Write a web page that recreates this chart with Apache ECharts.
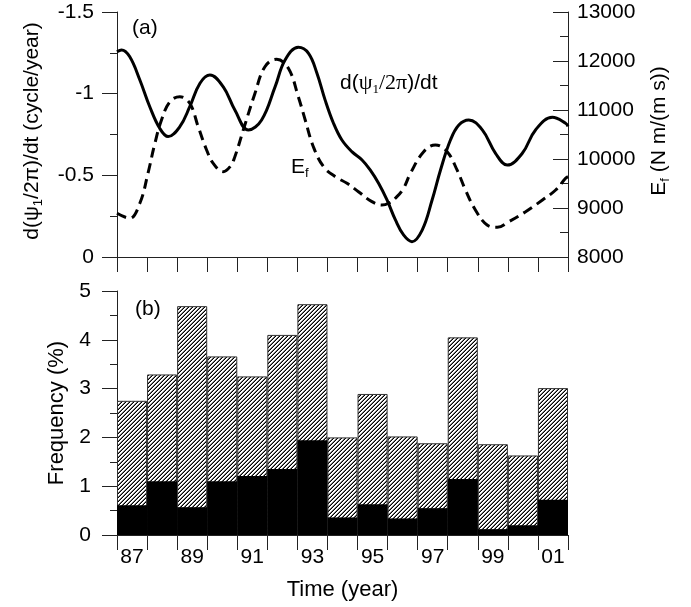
<!DOCTYPE html>
<html>
<head>
<meta charset="utf-8">
<script src="https://cdn.jsdelivr.net/npm/echarts@6/dist/echarts.min.js"></script>
<style>
html,body{margin:0;padding:0;background:#fff;}
#chart{width:691px;height:607px;}
</style>
</head>
<body>
<div id="chart"></div>
<script>
// ---- data ----
const psiYears = [1987.00,1987.15,1987.42,1987.76,1988.09,1988.42,1988.70,1989.09,1989.42,1989.76,1990.09,1990.53,1990.92,1991.37,1991.81,1992.26,1992.59,1993.03,1993.37,1993.65,1993.92,1994.20,1994.48,1994.81,1995.15,1995.42,1995.70,1995.98,1996.26,1996.53,1996.81,1997.15,1997.48,1997.76,1998.09,1998.37,1998.70,1999.15,1999.59,1999.98,2000.48,2000.92,2001.48,2001.92,2002.00];
const psiRate = [-1.257,-1.268,-1.227,-1.084,-0.920,-0.788,-0.737,-0.798,-0.920,-1.064,-1.114,-1.043,-0.900,-0.778,-0.839,-1.043,-1.206,-1.284,-1.247,-1.125,-0.962,-0.819,-0.716,-0.645,-0.594,-0.533,-0.451,-0.349,-0.227,-0.135,-0.094,-0.165,-0.349,-0.533,-0.716,-0.808,-0.839,-0.778,-0.635,-0.563,-0.635,-0.778,-0.855,-0.819,-0.800];
const efYears = [1987.00,1987.42,1987.76,1988.03,1988.26,1988.48,1988.76,1989.09,1989.42,1989.70,1989.98,1990.20,1990.53,1990.76,1990.92,1991.20,1991.59,1991.92,1992.31,1992.70,1993.03,1993.26,1993.53,1993.87,1994.26,1994.65,1995.03,1995.48,1995.81,1996.03,1996.31,1996.53,1996.76,1997.20,1997.59,1997.98,1998.31,1998.59,1998.92,1999.31,1999.65,2000.03,2000.59,2001.15,2001.59,2001.92,2002.00];
const efValues = [8892,8790,9096,9708,10320,10796,11169,11271,11137,10659,10184,9912,9741,9843,10047,10592,11341,11884,12035,11851,11272,10796,10251,9843,9639,9504,9333,9129,9061,9096,9231,9402,9708,10149,10286,10149,9776,9367,8959,8653,8606,8720,8924,9163,9367,9606,9639];
const yearLabels = ['87','88','89','90','91','92','93','94','95','96','97','98','99','00','01'];
const freqTotal = [2.75,3.29,4.69,3.66,3.25,4.10,4.73,2.00,2.89,2.02,1.88,4.05,1.86,1.63,3.01];
const freqBlack = [0.61,1.10,0.57,1.10,1.21,1.35,1.94,0.36,0.63,0.34,0.55,1.15,0.12,0.20,0.72];
const leftTicks = [-1.5,-1,-0.5,0];

// ---- hatch pattern ----
const pc = document.createElement('canvas');
pc.width = 4; pc.height = 4;
const pctx = pc.getContext('2d');
pctx.fillStyle = '#fff'; pctx.fillRect(0,0,4,4);
pctx.fillStyle = '#000';
[[3,0],[2,1],[1,2],[0,3]].forEach(p => pctx.fillRect(p[0],p[1],1,1));
pctx.fillStyle = '#777';
[[2,0],[1,1],[0,2],[3,3]].forEach(p => pctx.fillRect(p[0],p[1],1,1));

const FONT = "'Liberation Sans', Arial, sans-serif";
const SERIF = "'Liberation Serif', 'Times New Roman', serif";
const AX = '#222';

const chart = echarts.init(document.getElementById('chart'), null, {renderer:'canvas'});

const richBase = {
  n: {fontFamily: FONT, fontSize: 21, lineHeight: 26, color:'#000'},
  s: {fontFamily: FONT, fontSize: 13, lineHeight: 13, verticalAlign: 'bottom', color:'#000'},
  g: {fontFamily: SERIF, fontSize: 22, lineHeight: 26, color:'#000'},
  gs: {fontFamily: SERIF, fontSize: 13, lineHeight: 13, verticalAlign: 'bottom', color:'#000'}
};

const option = {
  animation: false,
  backgroundColor: '#fff',
  textStyle: {fontFamily: FONT, color: '#000'},
  grid: [
    {left: 117, right: 123, top: 12, height: 245},
    {left: 117, right: 123, top: 291, height: 244}
  ],
  xAxis: [
    {gridIndex: 0, type: 'value', min: 1987, max: 2002, interval: 1,
     axisLine: {show: true, lineStyle: {color: AX, width: 1}},
     axisTick: {show: true, length: 15, lineStyle: {color: AX}},
     axisLabel: {show: false}, splitLine: {show: false}},
    {gridIndex: 1, type: 'category', data: yearLabels, boundaryGap: true,
     axisLine: {show: true, lineStyle: {color: AX, width: 1}},
     axisTick: {show: true, length: 15, interval: 0, alignWithLabel: false, lineStyle: {color: AX}},
     axisLabel: {interval: 1, margin: 12, fontSize: 21, color: '#000', fontFamily: FONT},
     splitLine: {show: false},
     name: 'Time (year)', nameLocation: 'middle', nameGap: 44,
     nameTextStyle: {fontSize: 22, color: '#000', fontFamily: FONT}}
  ],
  yAxis: [
    {gridIndex: 0, type: 'value', min: -1.5, max: 0, interval: 0.5, inverse: true,
     axisLine: {show: true, lineStyle: {color: AX, width: 1}},
     axisTick: {show: true, length: 15, lineStyle: {color: AX}},
     minorTick: {show: true, splitNumber: 2, length: 7, lineStyle: {color: AX}},
     axisLabel: {margin: 23, fontSize: 21, color: '#000', fontFamily: FONT,
       formatter: v => { const t = leftTicks.find(x => Math.abs(x - v) < 1e-9); return t === undefined ? '' : String(t); }},
     splitLine: {show: false}},
    {gridIndex: 0, type: 'value', position: 'right', min: 8000, max: 13000, interval: 1000,
     axisLine: {show: true, lineStyle: {color: AX, width: 1}},
     axisTick: {show: true, inside: true, length: 15, lineStyle: {color: AX}},
     minorTick: {show: true, splitNumber: 2, length: 8, lineStyle: {color: AX}},
     axisLabel: {margin: 9, fontSize: 21, color: '#000', fontFamily: FONT, formatter: v => String(v)},
     splitLine: {show: false}},
    {gridIndex: 1, type: 'value', min: 0, max: 5, interval: 1,
     axisLine: {show: true, lineStyle: {color: AX, width: 1}},
     axisTick: {show: true, length: 15, lineStyle: {color: AX}},
     minorTick: {show: true, splitNumber: 2, length: 7, lineStyle: {color: AX}},
     axisLabel: {margin: 26, fontSize: 21, color: '#000', fontFamily: FONT},
     splitLine: {show: false},
     name: 'Frequency (%)', nameLocation: 'middle', nameGap: 47, nameRotate: 90,
     nameTextStyle: {fontSize: 22, color: '#000', fontFamily: FONT}}
  ],
  series: [
    {type: 'line', xAxisIndex: 0, yAxisIndex: 1, data: efYears.map((x,i) => [x, efValues[i]]),
     smooth: 0.4, showSymbol: false, symbol: 'none',
     lineStyle: {color: '#000', width: 3, type: [10, 6]}, z: 3},
    {type: 'line', xAxisIndex: 0, yAxisIndex: 0, data: psiYears.map((x,i) => [x, psiRate[i]]),
     smooth: 0.4, showSymbol: false, symbol: 'none',
     lineStyle: {color: '#000', width: 3}, z: 4},
    {type: 'bar', xAxisIndex: 1, yAxisIndex: 2, data: freqTotal,
     barWidth: '100%', barGap: '-100%', barCategoryGap: '0%',
     itemStyle: {color: {image: pc, repeat: 'repeat'}, borderColor: '#333', borderWidth: 1}},
    {type: 'bar', xAxisIndex: 1, yAxisIndex: 2, data: freqBlack,
     barWidth: '100%', barGap: '-100%', barCategoryGap: '0%',
     itemStyle: {color: '#000', borderColor: '#000', borderWidth: 0}}
  ],
  graphic: [
    {type: 'text', x: 32, y: 131, rotation: Math.PI/2,
     style: {text: '{n|d(ψ}{s|1}{n|/2π)/dt (cycle/year)}', align: 'center', verticalAlign: 'middle', rich: richBase}},
    {type: 'text', x: 659, y: 131, rotation: Math.PI/2,
     style: {text: '{n|E}{s|f}{n| (N m/(m s))}', align: 'center', verticalAlign: 'middle', rich: richBase}},
    {type: 'text', x: 340, y: 83,
     style: {text: '{n|d(}{g|ψ}{gs|1}{g|/2π}{n|)/dt}', align: 'left', verticalAlign: 'middle', rich: richBase}},
    {type: 'text', x: 291, y: 167,
     style: {text: '{n|E}{s|f}', align: 'left', verticalAlign: 'middle', rich: richBase}},
    {type: 'text', x: 132, y: 28,
     style: {text: '(a)', font: "21px " + FONT, fill: '#000', align: 'left', verticalAlign: 'middle'}},
    {type: 'text', x: 135, y: 309,
     style: {text: '(b)', font: "21px " + FONT, fill: '#000', align: 'left', verticalAlign: 'middle'}}
  ]
};
chart.setOption(option);
</script>
</body>
</html>
